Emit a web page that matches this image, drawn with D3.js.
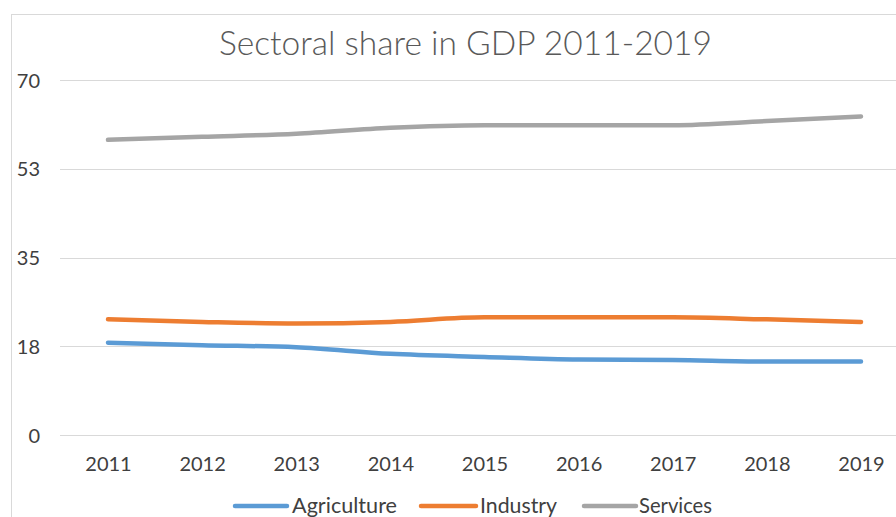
<!DOCTYPE html>
<html>
<head>
<meta charset="utf-8">
<script src="https://cdn.jsdelivr.net/npm/d3@7"></script>
<style>
  html, body { margin: 0; padding: 0; background: #fff; }
  svg { display: block; }
</style>
</head>
<body>
<svg id="chart" width="896" height="517"></svg>
<script>
const years = ["2011","2012","2013","2014","2015","2016","2017","2018","2019"];
const agriculture = [18.2, 17.7, 17.3, 16.0, 15.4, 14.9, 14.8, 14.5, 14.5];
const industry    = [22.8, 22.3, 22.0, 22.3, 23.2, 23.2, 23.2, 22.8, 22.3];
const services    = [58.2, 58.8, 59.4, 60.6, 61.1, 61.1, 61.1, 61.9, 62.8];
const yTicks = [0, 17.5, 35, 52.5, 70];
const seriesNames = ["Agriculture", "Industry", "Services"];
const seriesColors = ["#5B9BD5", "#ED7D31", "#A5A5A5"];
const titleText = "Sectoral share in GDP 2011-2019";

const series = [agriculture, industry, services];
const svg = d3.select("#chart");
const FONT = "Lato, 'Open Sans', sans-serif";

// outer frame
svg.append("rect").attr("x", 11.5).attr("y", 14.5).attr("width", 900).attr("height", 520)
  .attr("fill", "none").attr("stroke", "#D9D9D9").attr("stroke-width", 1);

const x = d3.scalePoint().domain(years).range([108, 861]);
const y = d3.scaleLinear().domain([0, 70]).range([435, 80]);

// gridlines
svg.append("g").selectAll("line").data(yTicks).join("line")
  .attr("x1", 60).attr("x2", 896)
  .attr("y1", d => Math.round(y(d)) + 0.5).attr("y2", d => Math.round(y(d)) + 0.5)
  .attr("stroke", "#D9D9D9").attr("stroke-width", 1);

// y axis
const yAxis = svg.append("g").attr("transform", "translate(40,0)")
  .call(d3.axisLeft(y).tickValues(yTicks).tickFormat(d3.format(".0f")).tickSize(0).tickPadding(0));
yAxis.select(".domain").remove();
yAxis.selectAll("text").attr("font-family", FONT).attr("font-size", 20).attr("fill", "#404040").attr("dy", "0.36em");

// x axis
const xAxis = svg.append("g").attr("transform", "translate(0,452)")
  .call(d3.axisBottom(x).tickSize(0).tickPadding(0));
xAxis.select(".domain").remove();
xAxis.selectAll("text").attr("font-family", FONT).attr("font-size", 20).attr("fill", "#404040").attr("dy", "0.95em");

// lines
const line = d3.line().x((d, i) => x(years[i])).y(d => y(d)).curve(d3.curveMonotoneX);
svg.append("g").selectAll("path").data(series).join("path")
  .attr("d", d => line(d))
  .attr("fill", "none")
  .attr("stroke", (d, i) => seriesColors[i])
  .attr("stroke-width", 4.5)
  .attr("stroke-linecap", "round")
  .attr("stroke-linejoin", "round");

// title
svg.append("text").attr("x", 219).attr("y", 55)
  .attr("font-family", FONT).attr("font-size", 33).attr("font-weight", 300).attr("fill", "#595959")
  .attr("textLength", 493).attr("lengthAdjust", "spacingAndGlyphs")
  .text(titleText);

// legend
const legendPos = [
  { lx1: 235, lx2: 287, tx: 292, tw: 105 },
  { lx1: 421, lx2: 476, tx: 480, tw: 77 },
  { lx1: 584, lx2: 636, tx: 639, tw: 73 }
];
const leg = svg.append("g");
seriesNames.forEach((name, i) => {
  const p = legendPos[i];
  leg.append("line").attr("x1", p.lx1).attr("x2", p.lx2).attr("y1", 506).attr("y2", 506)
    .attr("stroke", seriesColors[i]).attr("stroke-width", 4.5).attr("stroke-linecap", "round");
  leg.append("text").attr("x", p.tx).attr("y", 513)
    .attr("font-family", FONT).attr("font-size", 21).attr("fill", "#404040")
    .attr("textLength", p.tw).attr("lengthAdjust", "spacingAndGlyphs")
    .text(name);
});
</script>
</body>
</html>
